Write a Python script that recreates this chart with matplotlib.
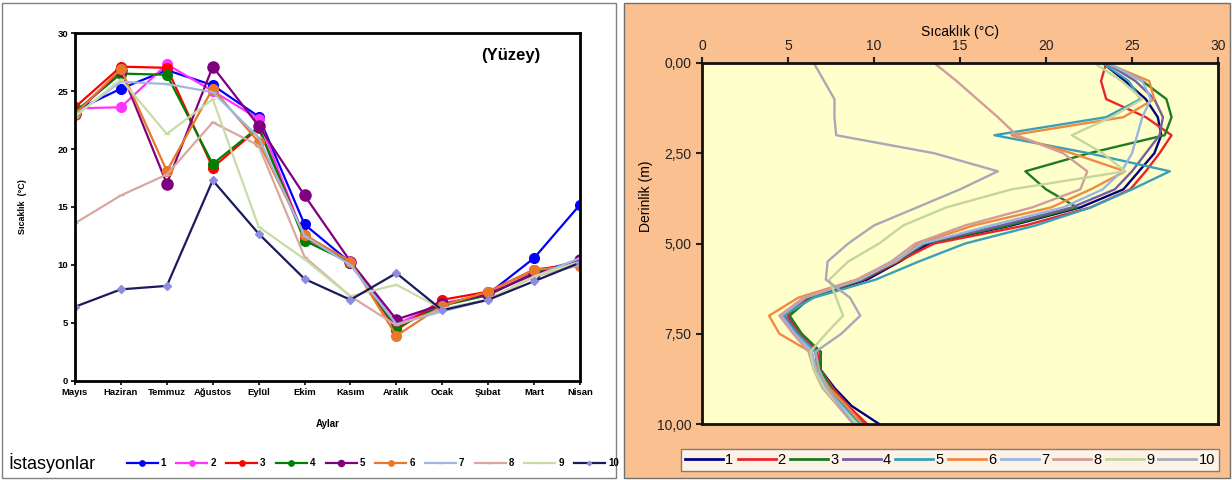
import numpy as np
import matplotlib
matplotlib.use('Agg')
import matplotlib.pyplot as plt
from matplotlib.patches import Rectangle
from matplotlib.ticker import FuncFormatter

plt.rcParams['font.family'] = ['Liberation Sans', 'DejaVu Sans']

# ---------------- data: surface temperatures by month ----------------
aylar = ['Mayıs', 'Haziran', 'Temmuz', 'Ağustos', 'Eylül', 'Ekim', 'Kasım',
         'Aralık', 'Ocak', 'Şubat', 'Mart', 'Nisan']
istasyon = ['1', '2', '3', '4', '5', '6', '7', '8', '9', '10']

s1 = [23.3, 25.2, 26.8, 25.5, 22.8, 13.5, 10.2, 4.8, 6.6, 7.5, 10.6, 15.2]
s2 = [23.5, 23.6, 27.3, 25.0, 22.6, 12.3, 10.2, 4.9, 6.7, 7.4, 9.4, 10.4]
s3 = [23.6, 27.1, 27.0, 18.4, 21.8, 12.4, 10.3, 4.4, 7.0, 7.7, 9.6, 10.1]
s4 = [23.2, 26.5, 26.4, 18.7, 21.9, 12.1, 10.2, 4.6, 6.5, 7.4, 9.3, 10.4]
s5 = [23.0, 26.8, 17.0, 27.1, 22.0, 16.0, 10.3, 5.3, 6.6, 7.5, 9.2, 10.4]
s6 = [23.0, 26.9, 18.1, 25.2, 20.6, 12.6, 10.3, 3.9, 6.5, 7.7, 9.6, 9.9]
s7 = [22.9, 25.8, 25.6, 24.9, 21.0, 12.5, 10.0, 4.9, 6.0, 7.0, 9.0, 10.6]
s8 = [13.6, 16.0, 17.8, 22.3, 20.3, 10.7, 7.3, 4.8, 6.2, 7.0, 9.0, 10.0]
s9 = [22.8, 26.0, 21.3, 24.3, 13.3, 10.5, 7.3, 8.3, 6.2, 7.0, 9.0, 10.3]
s10 = [6.4, 7.9, 8.2, 17.3, 12.7, 8.8, 7.0, 9.3, 6.1, 7.0, 8.6, 10.2]

# ---------------- data: depth profiles ----------------
derinlik = [0, 0.5, 1.0, 1.5, 2.0, 2.5, 3.0, 3.5, 4.0, 4.5, 5.0, 5.5, 6.0,
            6.5, 7.0, 7.5, 8.0, 8.5, 9.0, 9.5, 10.0]
p1 = [23.3, 24.6, 25.8, 26.5, 26.7, 26.3, 25.4, 24.5, 22.0, 18.0, 13.2, 11.5, 9.6, 6.3, 5.0, 5.6, 6.9, 6.9, 7.7, 8.7, 10.3]
p2 = [23.5, 23.2, 23.5, 25.8, 27.3, 26.6, 25.8, 24.9, 22.6, 18.8, 13.5, 11.4, 9.4, 6.2, 5.0, 5.7, 6.7, 6.9, 7.6, 8.5, 9.6]
p3 = [23.6, 25.6, 27.0, 27.3, 26.9, 22.5, 18.8, 20.0, 21.8, 17.8, 13.0, 11.3, 9.3, 6.3, 5.1, 5.8, 6.9, 6.9, 7.5, 8.3, 9.4]
p4 = [23.5, 25.2, 26.3, 26.8, 26.6, 25.8, 25.0, 24.0, 21.5, 17.4, 12.9, 11.2, 9.2, 6.0, 4.8, 5.6, 6.6, 6.7, 7.4, 8.2, 9.3]
p5 = [23.3, 24.8, 25.5, 23.5, 17.0, 22.5, 27.2, 25.0, 22.6, 19.4, 15.3, 12.6, 10.1, 6.5, 4.7, 5.5, 6.6, 6.8, 7.3, 8.2, 9.2]
p6 = [23.5, 26.0, 26.3, 24.5, 18.0, 21.5, 24.6, 22.6, 20.3, 15.8, 12.6, 11.3, 9.0, 5.6, 3.9, 4.5, 6.3, 6.7, 7.4, 8.4, 9.3]
p7 = [23.6, 25.6, 26.1, 25.6, 25.3, 25.0, 24.4, 23.3, 21.0, 16.8, 12.8, 11.2, 9.2, 6.0, 4.6, 5.4, 6.4, 6.6, 7.2, 8.1, 9.0]
p8 = [13.5, 14.8, 16.0, 17.2, 18.3, 21.0, 22.4, 22.0, 19.2, 15.3, 12.4, 11.0, 9.0, 5.9, 4.5, 5.3, 6.2, 6.5, 7.0, 7.9, 8.8]
p9 = [22.8, 24.4, 25.6, 23.8, 21.5, 23.3, 24.6, 18.0, 14.2, 11.7, 10.3, 8.5, 7.4, 7.8, 8.2, 7.2, 6.3, 6.5, 7.1, 8.0, 9.0]
p10 = [6.5, 7.1, 7.7, 7.7, 7.8, 13.5, 17.2, 15.0, 12.5, 10.0, 8.5, 7.3, 7.2, 8.6, 9.2, 8.1, 6.6, 6.8, 7.3, 8.0, 8.8]

yuzey = [s1, s2, s3, s4, s5, s6, s7, s8, s9, s10]
profil = [p1, p2, p3, p4, p5, p6, p7, p8, p9, p10]

# styles (left chart)
sol_renk = ['#0000FF', '#FF33FF', '#FF0000', '#008000', '#800080',
            '#E8782A', '#A0B8E0', '#D8A8A0', '#C8DCA8', '#1A1A5E']
sol_marker = ['o', 'o', 'o', 'o', 'o', 'o', '_', '_', '_', 'D']
sol_msize = [7, 7, 7, 7, 8, 7, 5, 5, 5, 4]
sol_mcolor = sol_renk[:9] + ['#8C8CE0']

# styles (right chart)
sag_renk = ['#000080', '#E8262A', '#1E7B1E', '#7460A0', '#3AA0B8',
            '#F08A40', '#9AB5E0', '#D29C9A', '#C3D69B', '#A8A8B8']

W, H = 1232, 480
fig = plt.figure(figsize=(W / 100, H / 100), dpi=100)
fig.patch.set_facecolor('white')

# panel frames (behind the axes)
fig.add_artist(Rectangle((2 / W, 2 / H), 614 / W, 475 / H, transform=fig.transFigure,
                         fill=False, edgecolor='#808080', lw=1, zorder=-10))
fig.add_artist(Rectangle((624 / W, 2 / H), 606 / W, 475 / H, transform=fig.transFigure,
                         facecolor='#FAC090', edgecolor='#707070', lw=1, zorder=-10))

# ================= left chart =================
ax1 = fig.add_axes([75 / W, 99 / H, 505 / W, 348 / H])
x = np.arange(len(aylar))
for i in range(10):
    ax1.plot(x, yuzey[i], color=sol_renk[i], lw=1.6, marker=sol_marker[i],
             markersize=sol_msize[i], markerfacecolor=sol_mcolor[i],
             markeredgecolor=sol_mcolor[i], label=istasyon[i])
ax1.set_xlim(0, 11)
ax1.set_ylim(0, 30)
ax1.set_xticks(x)
ax1.set_xticklabels(aylar, fontsize=6.8, fontweight='bold')
ax1.set_yticks(range(0, 31, 5))
ax1.set_yticklabels([str(v) for v in range(0, 31, 5)], fontsize=6.8, fontweight='bold')
ax1.tick_params(length=3, width=1.2, pad=2)
for sp in ax1.spines.values():
    sp.set_linewidth(2)
ax1.set_xlabel('Aylar', fontsize=7, fontweight='bold', labelpad=16)
ax1.set_ylabel('Sıcaklık  (°C)', fontsize=6.5, fontweight='bold', labelpad=22)
ax1.text(9.5, 28.1, '(Yüzey)', fontsize=12, fontweight='bold', ha='center', va='center')

fig.text(8 / W, 1 - 463 / H, 'İstasyonlar', fontsize=13, va='center', ha='left')
h1, l1 = ax1.get_legend_handles_labels()
fig.legend(h1, l1, loc='center left', bbox_to_anchor=(118 / W, 1 - 463 / H), ncol=10,
           frameon=False, prop={'size': 7, 'weight': 'bold'}, handlelength=3.2,
           handletextpad=0.3, columnspacing=1.05, markerscale=0.55)

# ================= right chart =================
ax2 = fig.add_axes([702 / W, 56 / H, 516 / W, 361 / H])
ax2.set_facecolor('#FFFFCC')
for i in range(10):
    ax2.plot(profil[i], derinlik, color=sag_renk[i], lw=1.7,
             solid_joinstyle='round', label=istasyon[i])
ax2.set_xlim(0, 30)
ax2.set_ylim(10, 0)
ax2.xaxis.tick_top()
ax2.xaxis.set_label_position('top')
ax2.set_xticks(range(0, 31, 5))
ax2.set_yticks([0, 2.5, 5, 7.5, 10])
ax2.yaxis.set_major_formatter(FuncFormatter(lambda v, p: f'{v:.2f}'.replace('.', ',')))
ax2.tick_params(labelsize=10, colors='#222222', length=4, width=1.5)
for sp in ax2.spines.values():
    sp.set_linewidth(2)
    sp.set_color('#111111')
ax2.set_xlabel('Sıcaklık (°C)', fontsize=10, labelpad=2)
ax2.set_ylabel('Derinlik (m)', fontsize=10)
ax2.yaxis.set_label_coords(-0.095, 0.63)

h2, l2 = ax2.get_legend_handles_labels()
leg = fig.legend(h2, l2, loc='center', bbox_to_anchor=(950 / W, 1 - 460 / H), ncol=10,
                 fontsize=10.5, handlelength=2.6, handletextpad=0.15, columnspacing=0.3,
                 fancybox=False, edgecolor='#666666', borderpad=0.3)
leg.get_frame().set_linewidth(1)
for ln in leg.get_lines():
    ln.set_linewidth(2)

fig.savefig('out.png', dpi=100)
